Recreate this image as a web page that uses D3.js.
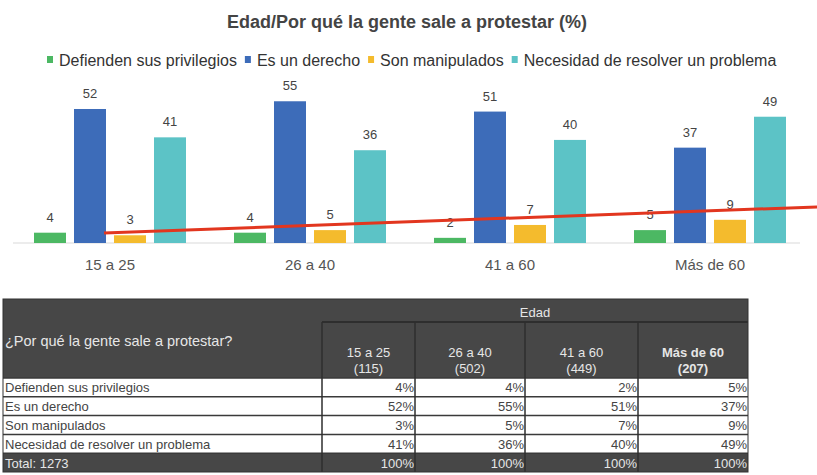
<!DOCTYPE html>
<html lang="es">
<head>
    <meta charset="UTF-8">
    <title>Edad/Por qué la gente sale a protestar</title>
    <script src="https://d3js.org/d3.v7.min.js"></script>
    <style>
        body {
            margin: 0;
            background: #fff;
            font-family: Arial, "Liberation Sans", sans-serif;
        }
        svg {
            display: block;
        }
    </style>
</head>
<body>
    <div id="container"></div>

    <script>
        // data
        const ageGroups = ['15 a 25', '26 a 40', '41 a 60', 'Más de 60'];
        const groupSizes = ['(115)', '(502)', '(449)', '(207)'];
        const seriesNames = ['Defienden sus privilegios', 'Es un derecho', 'Son manipulados', 'Necesidad de resolver un problema'];
        const defienden = [4, 4, 2, 5];
        const derecho = [52, 55, 51, 37];
        const manipulados = [3, 5, 7, 9];
        const necesidad = [41, 36, 40, 49];
        const totals = ['100%', '100%', '100%', '100%'];
        const totalLabel = 'Total: 1273';
        // red annotation line: [group position, value]
        const trendPoints = [[-0.03, 3.9], [3.6, 14.2]];

        const seriesValues = [defienden, derecho, manipulados, necesidad];
        const colors = ['#4cb863', '#3d6cb9', '#f4bb2d', '#5cc3c6'];

        const width = 817, height = 475;
        const svg = d3.select('#container').append('svg')
            .attr('width', width)
            .attr('height', height);

        // title
        svg.append('text')
            .attr('x', 407)
            .attr('y', 28)
            .attr('text-anchor', 'middle')
            .attr('font-size', 18)
            .attr('font-weight', 'bold')
            .attr('fill', '#444')
            .text('Edad/Por qué la gente sale a protestar (%)');

        // legend
        let lx = 47;
        const legend = svg.append('g');
        seriesNames.forEach(function(name, i) {
            legend.append('rect')
                .attr('x', lx)
                .attr('y', 56)
                .attr('width', 6)
                .attr('height', 7)
                .attr('fill', colors[i]);
            const t = legend.append('text')
                .attr('x', lx + 12)
                .attr('y', 66)
                .attr('font-size', 16)
                .attr('fill', '#333')
                .text(name);
            lx += 12 + t.node().getComputedTextLength() + 8;
        });

        // scales
        const x0 = d3.scaleBand()
            .domain(ageGroups)
            .range([10, 810]);

        const x1 = d3.scaleBand()
            .domain(seriesNames)
            .range([24, 176])
            .paddingInner(0.2);

        const y = d3.scaleLinear()
            .domain([0, 60])
            .range([243, 243 - 60 * 2.577]);

        const groupPos = d3.scaleLinear()
            .domain([0, 3])
            .range([x0(ageGroups[0]) + x0.bandwidth() / 2, x0(ageGroups[3]) + x0.bandwidth() / 2]);

        // baseline
        svg.append('line')
            .attr('x1', 13).attr('x2', 800)
            .attr('y1', y(0)).attr('y2', y(0))
            .attr('stroke', '#d9d9d9');

        const rows = [];
        ageGroups.forEach(function(g, gi) {
            seriesNames.forEach(function(s, si) {
                rows.push({group: g, series: s, si: si, value: seriesValues[si][gi]});
            });
        });

        svg.selectAll('.bar')
            .data(rows)
            .enter()
            .append('rect')
            .attr('class', 'bar')
            .attr('x', d => x0(d.group) + x1(d.series))
            .attr('y', d => y(d.value))
            .attr('width', x1.bandwidth())
            .attr('height', d => y(0) - y(d.value))
            .attr('fill', d => colors[d.si]);

        svg.selectAll('.val')
            .data(rows)
            .enter()
            .append('text')
            .attr('class', 'val')
            .attr('x', d => x0(d.group) + x1(d.series) + x1.bandwidth() / 2)
            .attr('y', d => y(d.value) - 11)
            .attr('text-anchor', 'middle')
            .attr('font-size', 13)
            .attr('fill', '#444')
            .text(d => d.value);

        // category labels
        svg.selectAll('.cat')
            .data(ageGroups)
            .enter()
            .append('text')
            .attr('class', 'cat')
            .attr('x', d => x0(d) + x0.bandwidth() / 2)
            .attr('y', 270)
            .attr('text-anchor', 'middle')
            .attr('font-size', 15)
            .attr('fill', '#555')
            .text(d => d);

        // red line
        svg.append('path')
            .datum(trendPoints)
            .attr('d', d3.line().x(d => groupPos(d[0])).y(d => y(d[1])))
            .attr('stroke', '#e2361f')
            .attr('stroke-width', 3)
            .attr('fill', 'none');

        // ---- table ----
        const tLeft = 3, tTop = 299, tRight = 748;
        const colEdge = d3.scaleLinear()
            .domain([0, 1, 2, 3, 4])
            .range([322, 415, 525, 638, 748]);
        const rowNames = seriesNames.concat([totalLabel]);
        const rowY = d3.scaleBand()
            .domain(rowNames)
            .range([378, 472]);
        const headDark = '#474747';
        const lineDark = '#2e2e2e';

        const table = svg.append('g').attr('font-size', 13);

        // header background
        table.append('rect')
            .attr('x', tLeft).attr('y', tTop)
            .attr('width', tRight - tLeft).attr('height', 378 - tTop)
            .attr('fill', headDark);
        table.append('line')
            .attr('x1', colEdge(0)).attr('x2', tRight)
            .attr('y1', 322).attr('y2', 322)
            .attr('stroke', lineDark).attr('stroke-width', 2);

        table.append('text')
            .attr('x', 5).attr('y', 346)
            .attr('font-size', 14.5)
            .attr('fill', '#e6e6e6')
            .text('¿Por qué la gente sale a protestar?');
        table.append('text')
            .attr('x', (colEdge(0) + tRight) / 2).attr('y', 317)
            .attr('text-anchor', 'middle')
            .attr('fill', '#e6e6e6')
            .text('Edad');

        ageGroups.forEach(function(g, i) {
            const cx = (colEdge(i) + colEdge(i + 1)) / 2;
            const bold = i === 3 ? 'bold' : 'normal';
            table.append('text')
                .attr('x', cx).attr('y', 357)
                .attr('text-anchor', 'middle')
                .attr('font-weight', bold)
                .attr('fill', '#e6e6e6')
                .text(g);
            table.append('text')
                .attr('x', cx).attr('y', 373)
                .attr('text-anchor', 'middle')
                .attr('font-weight', bold)
                .attr('fill', '#e6e6e6')
                .text(groupSizes[i]);
        });

        // body rows
        rowNames.forEach(function(r, ri) {
            const isTotal = ri === rowNames.length - 1;
            const yTop = rowY(r);
            table.append('rect')
                .attr('x', tLeft).attr('y', yTop)
                .attr('width', tRight - tLeft).attr('height', rowY.bandwidth())
                .attr('fill', isTotal ? headDark : '#fff');
            table.append('text')
                .attr('x', 5).attr('y', yTop + rowY.bandwidth() / 2 + 5)
                .attr('fill', isTotal ? '#e6e6e6' : '#444')
                .text(r);
            ageGroups.forEach(function(g, ci) {
                const txt = isTotal ? totals[ci] : seriesValues[ri][ci] + '%';
                table.append('text')
                    .attr('x', colEdge(ci + 1) - 1)
                    .attr('y', yTop + rowY.bandwidth() / 2 + 5)
                    .attr('text-anchor', 'end')
                    .attr('fill', isTotal ? '#e6e6e6' : '#444')
                    .text(txt);
            });
            table.append('line')
                .attr('x1', tLeft).attr('x2', tRight)
                .attr('y1', yTop).attr('y2', yTop)
                .attr('stroke', '#3a3a3a').attr('stroke-width', 1.5);
        });

        // vertical lines
        [0, 1, 2, 3].forEach(function(i) {
            table.append('line')
                .attr('x1', colEdge(i)).attr('x2', colEdge(i))
                .attr('y1', 322).attr('y2', 472)
                .attr('stroke', lineDark).attr('stroke-width', 1.5);
        });
        table.append('rect')
            .attr('x', tLeft).attr('y', tTop)
            .attr('width', tRight - tLeft).attr('height', 472 - tTop)
            .attr('fill', 'none')
            .attr('stroke', '#333').attr('stroke-width', 1);
    </script>
</body>
</html>
